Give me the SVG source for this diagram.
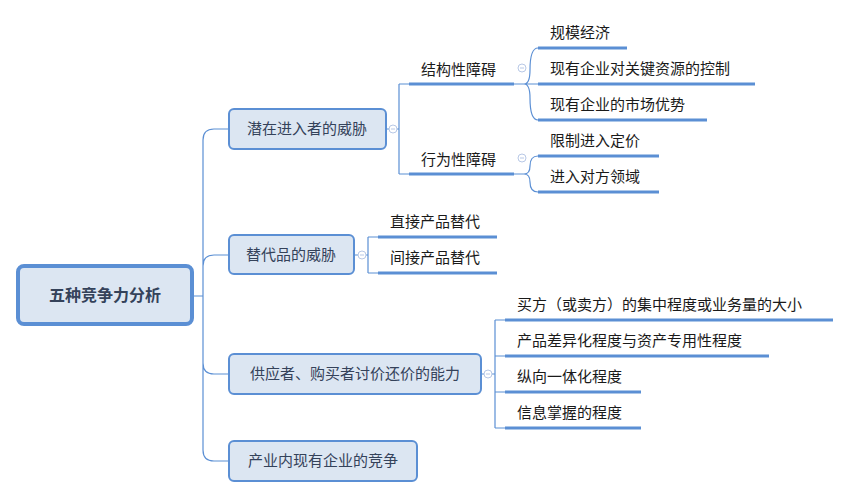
<svg xmlns="http://www.w3.org/2000/svg" width="852" height="498" viewBox="0 0 852 498">
<style>
text{font-family:"Noto Sans CJK SC","Liberation Sans",sans-serif;font-size:15px;fill:#1a1a1a}
.n{fill:#DCE6F2;stroke:#5B8FD4;stroke-width:2}
.main{fill:#34425a}
.u{stroke:#5B8FD4;stroke-width:3}
.c{fill:none;stroke:#5B8FD4;stroke-width:1.2}
.t{fill:#fff;stroke:#b8c8e6;stroke-width:1}
.m{stroke:#b8c8e6;stroke-width:1}
</style>
<rect width="852" height="498" fill="#fff"/>
<g id="connectors">
<path class="c" d="M192,296H203M203,140Q203,129 214,129H229M203,266Q203,255 214,255H229M203,363Q203,374 214,374H229M203,450Q203,461 214,461H229M203,140V450"/>
<path class="c" d="M386,129H399M399,84V174M399,84H409M399,174H409"/>
<path class="c" d="M514,84H524Q530,84 530,70Q530,48 538,48M524,84H538M524,84Q530,84 530,98Q530,120 538,120"/>
<path class="c" d="M514,174H524Q530,174 530,166Q530,156 538,156M524,174Q530,174 530,182Q530,192 538,192"/>
<path class="c" d="M354,255H368M368,237V273M368,237H378M368,273H378"/>
<path class="c" d="M481,374H495M495,320V428M495,320H505M495,356H505M495,392H505M495,428H505"/>
</g>
<g id="root"><rect x="18" y="266" width="174" height="58" rx="6" fill="#DCE6F2" stroke="#5B8FD4" stroke-width="4"/><text x="105" y="301" text-anchor="middle" class="main" style="font-weight:bold;font-size:16px">五种竞争力分析</text></g>
<g id="n1"><rect class="n" x="229" y="109" width="157" height="40" rx="5"/><text class="main" x="307" y="134" text-anchor="middle">潜在进入者的威胁</text><circle class="t" cx="393" cy="129" r="4"/><path class="m" d="M391,129h4"/></g>
<g id="n2"><rect class="n" x="229" y="235" width="125" height="39" rx="5"/><text class="main" x="291" y="260" text-anchor="middle">替代品的威胁</text><circle class="t" cx="362" cy="255" r="4"/><path class="m" d="M360,255h4"/></g>
<g id="n3"><rect class="n" x="229" y="354" width="252" height="40" rx="5"/><text class="main" x="355" y="379" text-anchor="middle">供应者、购买者讨价还价的能力</text><circle class="t" cx="488" cy="374" r="4"/><path class="m" d="M486,374h4"/></g>
<g id="n4"><rect class="n" x="229" y="441" width="188" height="40" rx="5"/><text class="main" x="323" y="466" text-anchor="middle">产业内现有企业的竞争</text></g>
<g id="s1"><text x="421" y="75">结构性障碍</text><line class="u" x1="409" y1="84" x2="514" y2="84"/><circle class="t" cx="522" cy="68" r="4"/><path class="m" d="M520,68h4"/></g>
<g id="s2"><text x="421" y="165">行为性障碍</text><line class="u" x1="409" y1="174" x2="514" y2="174"/><circle class="t" cx="522" cy="158" r="4"/><path class="m" d="M520,158h4"/></g>
<g id="l1"><text x="550" y="38">规模经济</text><line class="u" x1="538" y1="48" x2="627" y2="48"/></g>
<g id="l2"><text x="550" y="74">现有企业对关键资源的控制</text><line class="u" x1="538" y1="84" x2="755" y2="84"/></g>
<g id="l3"><text x="550" y="110">现有企业的市场优势</text><line class="u" x1="538" y1="120" x2="707" y2="120"/></g>
<g id="l4"><text x="550" y="146">限制进入定价</text><line class="u" x1="538" y1="156" x2="659" y2="156"/></g>
<g id="l5"><text x="550" y="182">进入对方领域</text><line class="u" x1="538" y1="192" x2="659" y2="192"/></g>
<g id="l6"><text x="390" y="227">直接产品替代</text><line class="u" x1="378" y1="237" x2="497" y2="237"/></g>
<g id="l7"><text x="390" y="263">间接产品替代</text><line class="u" x1="378" y1="273" x2="497" y2="273"/></g>
<g id="l8"><text x="517" y="310">买方（或卖方）的集中程度或业务量的大小</text><line class="u" x1="505" y1="320" x2="833" y2="320"/></g>
<g id="l9"><text x="517" y="346">产品差异化程度与资产专用性程度</text><line class="u" x1="505" y1="356" x2="769" y2="356"/></g>
<g id="l10"><text x="517" y="382">纵向一体化程度</text><line class="u" x1="505" y1="392" x2="641" y2="392"/></g>
<g id="l11"><text x="517" y="418">信息掌握的程度</text><line class="u" x1="505" y1="428" x2="641" y2="428"/></g>
</svg>
